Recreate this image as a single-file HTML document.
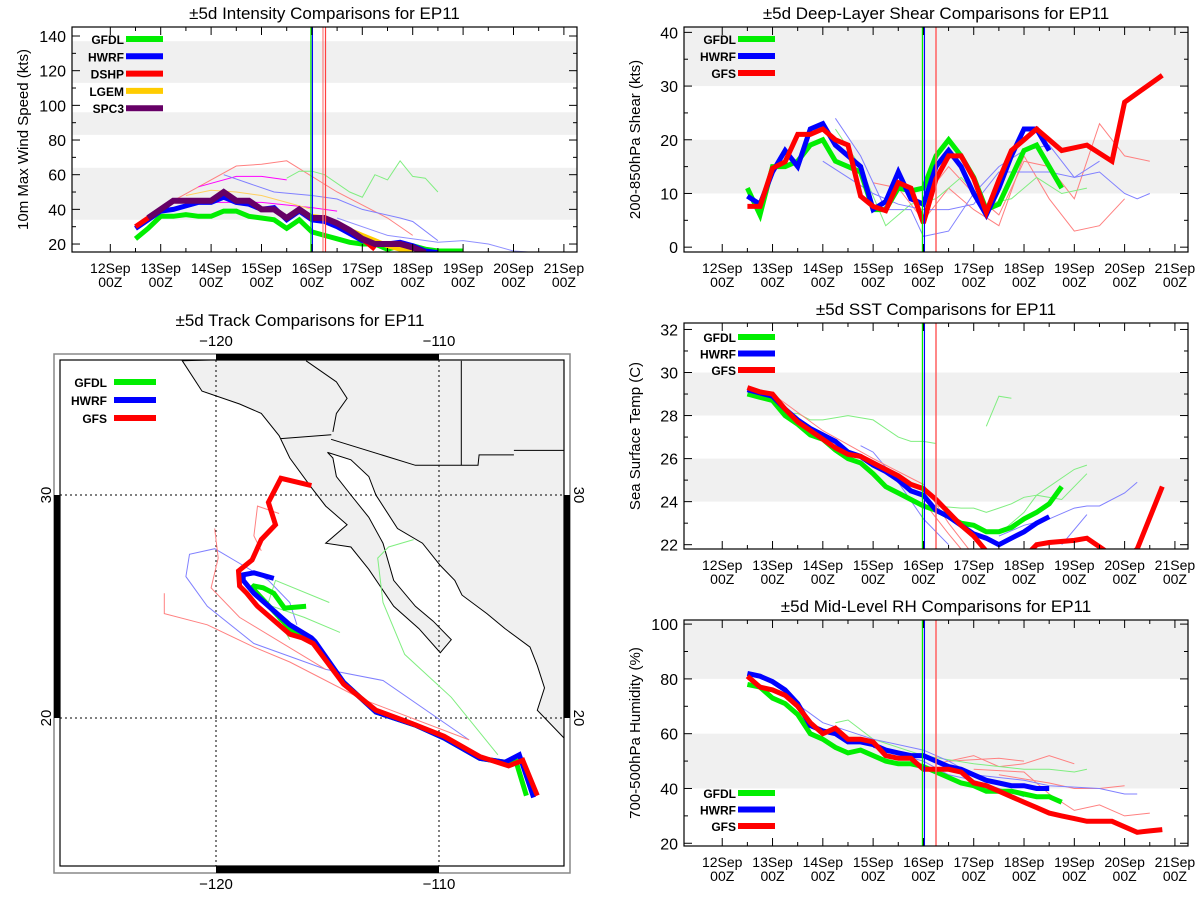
<!DOCTYPE html>
<html><head><meta charset="utf-8">
<style>
html,body{margin:0;padding:0;background:#fff;}
svg{display:block;font-family:"Liberation Sans",sans-serif;}
</style></head>
<body>
<svg id="root" width="1200" height="900" viewBox="0 0 1200 900"></svg>
<script>
// ===== Intensity panel data (days since 12Sep 00Z) =====
const intGFDL_start=0.5, intGFDL=[23,29,36,36,37,36,36,39,39,36,35,34,29,34,27,25,23,21,20,20,17,19,19,17,16,16,16];
const intHWRF_start=0.5, intHWRF=[29,34,39,40,42,44,44,47,44,43,40,41,34,39,34,33,30,26,22,20,20,21,19,16,15];
const intDSHP_start=0.5, intDSHP=[30,35,40,45,45,45,45,50,45,45,40,40,35,40,35,35,32,28,23,17];
const intLGEM_start=4.0, intLGEM=[36,35,32,28,25,22,19,17,16];
const intSPC3_start=0.75, intSPC3=[35,40,45,45,45,45,50,45,45,40,40,35,40,35,35,32,28,23,20,20,20,18,15];
const intThinT=[[1.25,2.5,3.0,3.5,4.5,5.5,6.0],[1.75,2.5,3.0,3.5],[2.0,3.0,4.0,4.5],[2.25,2.75,3.25,4.0,4.5,5.0,5.75,6.0,6.5],[3.5,3.75,4.0,4.25,4.75,5.0,5.25,5.5,5.75,6.0,6.25,6.5],[1.5,2.0,2.5,3.0,3.5,4.0],[4.5,5.5,6.5,7.0,7.5,8.0,8.5]];
const intThinV=[[45,65,66,68,50,35,25],[53,59,59,57],[44,44,41,39],[60,55,50,48,46,40,35,33,22],[58,62,62,60,50,47,60,57,68,59,58,50],[48,51,50,48,44,40],[35,25,21,22,20,16,15]];
const intThinC=['#ff8080','#ff00ff','#ff00ff','#8080ff','#80ee80','#ffd060','#9090ff'];
const intYTicks=[20,40,60,80,100,120,140];

// ===== Shear panel data =====
const shrGFDL_start=0.5, shrGFDL=[11,6,15,15,16,19,20,16,15,14,7,7,11,10.5,11,17,20,17,13,7,8,13,18,19,15,11];
const shrHWRF_start=0.5, shrHWRF=[9.5,8,14,18,15,22,23,19,17,15,7,8.5,14,9,8,15,18,15,10,6,11,17,22,22,18];
const shrGFS_t=[0.5,0.75,1.0,1.25,1.5,1.75,2.0,2.25,2.5,2.75,3.0,3.25,3.5,3.75,4.0,4.25,4.5,4.75,5.0,5.25,5.5,5.75,6.0,6.25,6.5,6.75,7.0,7.25,7.75,8.0,8.75];
const shrGFS_v=[7.6,7.6,14.7,15.9,21,21,22,20,19,9.5,7.6,6.8,12,11,4.5,12.7,17,17,12.8,6.5,12.5,18,20,22,20,18,18.5,19,16,27,32];
const shrThinT=[[4.0,4.5,5.0,5.5,6.0,6.5,7.0,7.5,8.0,8.5],[3.0,3.5,4.0,4.5,5.0,5.5,6.0,6.5,7.0,7.5,8.0],[2.25,2.75,3.25,3.75,4.0,4.5,5.0,5.5,6.0,6.5,7.0,7.5,8.0,8.25,8.5],[2.25,2.75,3.25,3.75,4.25,4.75,5.25,5.75,6.25,6.75,7.25],[2.0,2.5,3.0,3.5,4.0,4.5,5.0,5.5,6.0,6.5,7.0,7.5]];
const shrThinV=[[9,15,10,6,16,15,9,23,17,16],[12,11,5,11,7,4,17,9,3,4,9],[24,17,7,7,2,3,10,15,18,19,13,14,10,9,10],[22,15,4,8,9,13,8,9,13,10,11],[16,13,10,8,7,7,8,14,14,14,13,16]];
const shrThinC=['#ff8080','#ff8080','#8080ff','#80ee80','#8080ff'];
const shrYTicks=[0,10,20,30,40];

// ===== SST panel data =====
const sstGFDL_start=0.5, sstGFDL=[29.0,28.85,28.7,28.0,27.6,27.1,26.9,26.4,26.0,25.8,25.3,24.7,24.4,24.1,23.8,23.6,23.3,23.0,22.9,22.6,22.6,22.8,23.2,23.5,23.9,24.7];
const sstHWRF_start=0.5, sstHWRF=[29.2,29.05,28.9,28.3,27.8,27.4,27.1,26.8,26.3,26.1,25.7,25.4,25.0,24.5,24.3,23.6,23.3,22.9,22.5,22.3,22.0,22.3,22.6,23.0,23.3];
const sstGFS_t=[0.5,0.75,1.0,1.25,1.5,1.75,2.0,2.25,2.5,2.75,3.0,3.25,3.5,3.75,4.0,4.25,4.5,4.75,5.0,5.25,5.5,6.0,6.25,6.5,7.0,7.25,7.5,7.75,8.0,8.25,8.75];
const sstGFS_v=[29.3,29.1,29.0,28.3,27.7,27.3,26.9,26.5,26.2,26.1,25.8,25.5,25.2,24.8,24.6,24.1,23.5,22.9,22.4,21.7,21.2,21.4,22.0,22.1,22.2,22.3,21.9,21.5,21.3,21.8,24.7];
const sstThinT=[[1.25,1.5,1.75,2.0,2.5,3.0,3.5,3.75,4.0,4.25],[5.25,5.5,5.75],[4.25,4.75,5.0,5.25,5.5,5.75,6.0,6.25,6.5,7.0,7.25],[5.5,6.0,6.25,6.75,7.25],[2.75,3.0,3.5,4.0,4.5],[5.5,6.0,6.5,7.0,7.25,7.5,8.0,8.25],[6.75,7.25],[1.0,2.0,3.0,4.0,4.5,5.0],[4.0,4.5,4.75]];
const sstThinV=[[28.1,28.1,27.8,27.8,28.0,27.8,27.0,26.8,26.8,26.7],[27.5,28.9,28.8],[23.8,23.7,23.7,23.5,23.7,23.9,24.2,24.3,24.7,25.5,25.7],[22.5,23.5,24.3,24.1,25.3],[26.6,26.3,24.9,23.2,22.0],[22.4,22.9,23.2,23.7,23.8,23.8,24.4,24.9],[22.0,23.4],[29.0,27.3,26.0,24.8,23.0,21.5],[24.0,22.5,21.8]];
const sstThinC=['#80ee80','#80ee80','#80ee80','#80ee80','#8080ff','#8080ff','#8080ff','#ff8080','#ff8080'];
const sstYTicks=[22,24,26,28,30,32];

// ===== RH panel data =====
const rhGFDL_start=0.5, rhGFDL=[78,77,73,71,67,60,58,55,53,54,52,50,49,49,48,46,44,42,41,39,39,39,38,37,37,35];
const rhHWRF_start=0.5, rhHWRF=[82,81,79,76,71,63,61,60,57,57,56,54,53,52,52,50,48,47,45,43,42,41,41,40,40];
const rhGFS_start=0.5, rhGFS=[81,77,76,74,70,64,60,62,58,58,57,52,51,51,47,47,47,46,42,41,39,37,35,33,31,30,29,28,28,28,26,24,24.5,25];
const rhThinT=[[4.25,5.0,5.5,6.0,6.5,7.0],[4.5,5.5,6.0],[5.0,6.0,6.5,7.0,7.5,8.0,8.5],[5.5,6.5,7.0,7.5,8.0],[2.25,2.5,3.0,4.0,5.0,6.0,6.5,7.0,7.25],[1.25,2.0,3.0,4.0,4.5,5.0,5.5,6.0,6.5,7.5,8.0,8.25],[3.0,4.0,4.5,5.0,5.5,6.0]];
const rhThinV=[[49,52,48,49,52,49],[50,51,50],[47,46,38,32,34,30,31],[45,42,40,40,41],[64,65,58,52,49,47,47,46,47],[74,64,58,54,50,45,44,43,41,40,38,38],[55,50,45,43,40,37]];
const rhThinC=['#ff8080','#ff8080','#ff8080','#ff8080','#80ee80','#8080ff','#8080ff'];
const rhYTicks=[20,40,60,80,100];

// ===== Track data (lon, lat) =====
const trkHWRF_lon=[-105.76,-106.40,-107.04,-108.17,-109.77,-111.06,-112.83,-114.28,-115.56,-115.72,-116.69,-118.30,-118.78,-118.78,-118.30,-117.41];
const trkHWRF_lat=[16.44,18.35,18.02,18.19,19.10,19.68,20.27,21.60,23.43,23.59,24.18,25.59,26.17,26.42,26.51,26.26];
const trkGFDL_lon=[-106.08,-106.56,-107.04,-108.17,-109.77,-111.06,-112.83,-114.28,-115.72,-116.69,-118.38,-118.30,-117.89,-117.41,-116.93,-115.96];
const trkGFDL_lat=[16.52,18.10,18.02,18.19,19.10,19.68,20.27,21.60,23.51,24.01,25.84,25.92,25.84,25.59,24.93,25.01];
const trkGFS_lon=[-105.59,-106.24,-106.88,-108.17,-109.77,-111.22,-112.83,-114.28,-115.64,-116.13,-116.69,-118.14,-118.62,-118.94,-118.99,-118.38,-117.97,-117.33,-117.65,-117.09,-115.72];
const trkGFS_lat=[16.52,18.10,17.85,18.27,19.18,19.76,20.35,21.52,23.34,23.59,23.76,25.01,25.59,25.92,26.59,27.09,28.0,28.67,29.67,30.75,30.42];
const trkThinLon=[[-107.36,-109.45,-111.54,-112.51,-112.75,-112.26,-111.14],[-108.65,-112.51,-115.08,-118.30,-120.39,-121.35,-121.19,-120.06,-118.78,-117.65,-116.69,-116.37],[-108.65,-113.47,-116.69,-118.30,-120.39,-122.32,-122.32],[-115.08,-118.94,-120.22,-119.90,-120.06],[-117.97,-118.3,-118.14,-117.17],[-116.69,-117.65,-117.33,-114.92],[-117.97,-116.04,-114.44]];
const trkThinLat=[[18.35,20.93,22.85,25.18,27.17,27.67,28.00],[19.02,21.68,22.18,23.34,25.01,26.34,27.34,27.59,26.84,26.17,25.18,24.18],[19.02,20.85,22.51,23.18,24.18,24.68,25.59],[22.18,24.51,25.84,27.17,28.50],[27.5,28.17,29.5,29.17],[23.51,25.18,26.17,25.18],[25.18,24.51,23.84]];
const trkThinC=['#80ee80','#8080ff','#ff8080','#ff8080','#ff8080','#80ee80','#80ee80'];
// land outline (lon,lat)
const landLon=[-121.51,-104.0,-104.0,-104.39,-105.59,-105.27,-105.59,-105.92,-107.04,-107.85,-108.97,-109.29,-109.94,-110.74,-111.86,-112.83,-113.15,-113.95,-115.00,-114.76,-114.60,-113.95,-113.15,-112.51,-112.03,-111.06,-110.26,-109.45,-109.94,-110.90,-112.03,-113.15,-113.95,-115.08,-114.12,-115.08,-115.72,-116.69,-117.17,-117.97,-118.94,-120.63,-121.51];
const landLat=[36.02,36.5,19.10,19.10,20.35,21.35,22.35,23.18,24.01,24.68,25.51,26.17,26.84,27.84,28.50,30.00,30.83,31.58,31.91,31.66,30.83,30.00,29.00,27.84,26.17,25.01,24.34,23.51,22.93,24.01,25.01,26.67,27.67,27.84,28.67,29.50,30.33,31.66,32.66,33.66,34.08,34.66,36.02];
const bordersLon=[[-117.09,-114.83],[-114.84,-111.06,-108.25,-108.2,-106.64],[-115.96,-114.6,-114.12,-114.6,-114.76],[-109.0,-109.0],[-106.64,-104.0]];
const bordersLat=[[32.53,32.70],[32.5,31.33,31.33,31.8,31.8],[36.02,35.07,34.33,33.66,32.83],[36.02,31.33],[32.0,32.0]];

const NS='http://www.w3.org/2000/svg';
const root=document.getElementById('root');
function mk(tag,attrs,parent){const e=document.createElementNS(NS,tag);for(const k in attrs)e.setAttribute(k,attrs[k]);(parent||root).appendChild(e);return e;}
function txt(s,attrs,parent){const e=mk('text',attrs,parent);e.textContent=s;return e;}
const DAY0=-0.76, DAY1=9.26;
const dayLabels=['12Sep','13Sep','14Sep','15Sep','16Sep','17Sep','18Sep','19Sep','20Sep','21Sep'];

function regular(start,vals){return vals.map((v,i)=>[start+i*0.25,v]);}
function paired(t,v){return t.map((x,i)=>[x,v[i]]);}

let clipId=0;
function panel(o){
  const g=mk('g',{});
  
  
  const X=d=>o.x0+(d-DAY0)/(DAY1-DAY0)*(o.x1-o.x0);
  const Y=v=>o.y1-(v-o.ymin)/(o.ymax-o.ymin)*(o.y1-o.y0);
  const cid='clip'+(clipId++);
  const cp=mk('clipPath',{id:cid},g);mk('rect',{x:o.x0,y:o.y0,width:o.x1-o.x0,height:o.y1-o.y0},cp);
  // bands
  o.bands.forEach(b=>{
    const r=mk('rect',{x:o.x0,y:Y(Math.min(b[1],o.ymax)),width:o.x1-o.x0,height:Y(b[0])-Y(Math.min(b[1],o.ymax)),fill:'#f0f0f0'},g);
    
    
  });
  const pg=mk('g',{'clip-path':'url(#'+cid+')'},g);
  function line(pts,color,w,name){
    const p=mk('polyline',{points:pts.map(p=>X(p[0]).toFixed(1)+','+Y(p[1]).toFixed(1)).join(' '),fill:'none',stroke:color,'stroke-width':w,'stroke-linejoin':'miter','stroke-miterlimit':3},pg);
    
    
  }
  o.thin.forEach((s,i)=>line(s.pts,s.c,1,'old-forecast-line'));
  // vertical time lines
  o.vlines.forEach(v=>{
    const l=mk('line',{x1:X(v[0]),x2:X(v[0]),y1:o.y0,y2:o.y1,stroke:v[1],'stroke-width':v[2]||1},g);
    
    
  });
  o.series.forEach(s=>line(s.pts,s.c,s.w||5,s.name));
  // frame
  const fr=mk('rect',{x:o.x0,y:o.y0,width:o.x1-o.x0,height:o.y1-o.y0,fill:'none',stroke:'#000','stroke-width':1.2},g);
  
  
  // x ticks
  for(let d=0;d<=9;d+=0.5){
    const L=(d%1===0)?8:4;
    mk('line',{x1:X(d),x2:X(d),y1:o.y1,y2:o.y1-L,stroke:'#000'},g);
    mk('line',{x1:X(d),x2:X(d),y1:o.y0,y2:o.y0+L,stroke:'#000'},g);
  }
  dayLabels.forEach((s,i)=>{
    const t1=txt(s,{x:X(i),y:o.y1+21,'text-anchor':'middle','font-size':14},g);
    
    
    const t2=txt('00Z',{x:X(i),y:o.y1+35,'text-anchor':'middle','font-size':14},g);
    
    
  });
  // y ticks
  const step=o.yticks[1]-o.yticks[0];
  o.yticks.forEach((v,i)=>{
    mk('line',{x1:o.x0,x2:o.x0+8,y1:Y(v),y2:Y(v),stroke:'#000'},g);
    mk('line',{x1:o.x1,x2:o.x1-8,y1:Y(v),y2:Y(v),stroke:'#000'},g);
    for(let k=1;k<o.minor;k++){const mv=v+k*step/o.minor;if(mv<o.ymax){
      mk('line',{x1:o.x0,x2:o.x0+4,y1:Y(mv),y2:Y(mv),stroke:'#000'},g);
      mk('line',{x1:o.x1,x2:o.x1-4,y1:Y(mv),y2:Y(mv),stroke:'#000'},g);}}
    const t=txt(String(v),{x:o.x0-6,y:Y(v)+6,'text-anchor':'end','font-size':16},g);
    
    
  });
  const yt=txt(o.ytitle,{x:0,y:0,'text-anchor':'middle','font-size':15,transform:'translate('+(o.x0-44)+','+((o.y0+o.y1)/2)+') rotate(-90)'},g);
  
  
  const tt=txt(o.title,{x:(o.x0+o.x1)/2,y:o.y0-8,'text-anchor':'middle','font-size':17},g);
  
  
  // legend
  o.legend.forEach((l,i)=>{
    const y=o.legY+i*o.legDy;
    const t=txt(l[0],{x:o.x0+52,y:y+5,'text-anchor':'end','font-size':12,'font-weight':'bold'},g);
    
    
    const ln=mk('line',{x1:o.x0+54,x2:o.x0+91,y1:y,y2:y,stroke:l[1],'stroke-width':6},g);
    
    
  });
}
const G='#00ee00',B='#0000ff',R='#ff0000';
function thin(T,V,C){return T.map((t,i)=>({pts:paired(t,V[i]),c:C[i]}));}
const vl=[[3.98,G,1.2],[4.01,B,1.2],[4.22,'#ff8080',1.2],[4.27,'#ff4040',1.2]];
const vl2=[[3.98,G,1.2],[4.02,B,1.2],[4.25,'#ff6060',1.5]];

panel({name:'intensity-chart',x0:72,x1:577,y0:27,y1:252,ymin:15.4,ymax:145.2,yticks:intYTicks,minor:2,
  bands:[[34,64],[83,96],[113,137]],title:'±5d Intensity Comparisons for EP11',ytitle:'10m Max Wind Speed (kts)',
  thin:thin(intThinT,intThinV,intThinC),vlines:vl,
  series:[{pts:regular(intGFDL_start,intGFDL),c:G,name:'gfdl-line'},{pts:regular(intHWRF_start,intHWRF),c:B,name:'hwrf-line'},
    {pts:regular(intDSHP_start,intDSHP),c:R,name:'dshp-line'},{pts:regular(intLGEM_start,intLGEM),c:'#ffcc00',name:'lgem-line'},
    {pts:regular(intSPC3_start,intSPC3),c:'#660066',w:6,name:'spc3-line'}],
  legend:[['GFDL',G],['HWRF',B],['DSHP',R],['LGEM','#ffcc00'],['SPC3','#660066']],legY:39,legDy:17.3});

panel({name:'shear-chart',x0:684,x1:1188,y0:27,y1:252,ymin:-0.9,ymax:41,yticks:shrYTicks,minor:2,
  bands:[[10,20],[30,41]],title:'±5d Deep-Layer Shear Comparisons for EP11',ytitle:'200-850hPa Shear (kts)',
  thin:thin(shrThinT,shrThinV,shrThinC),vlines:vl2,
  series:[{pts:regular(shrGFDL_start,shrGFDL),c:G,name:'gfdl-line'},{pts:regular(shrHWRF_start,shrHWRF),c:B,name:'hwrf-line'},
    {pts:paired(shrGFS_t,shrGFS_v),c:R,name:'gfs-line'}],
  legend:[['GFDL',G],['HWRF',B],['GFS',R]],legY:39,legDy:17});

panel({name:'sst-chart',x0:684,x1:1188,y0:323,y1:549,ymin:21.8,ymax:32.3,yticks:sstYTicks,minor:2,
  bands:[[24,26],[28,30]],title:'±5d SST Comparisons for EP11',ytitle:'Sea Surface Temp (C)',
  thin:thin(sstThinT,sstThinV,sstThinC),vlines:vl2,
  series:[{pts:regular(sstGFDL_start,sstGFDL),c:G,name:'gfdl-line'},{pts:regular(sstHWRF_start,sstHWRF),c:B,name:'hwrf-line'},
    {pts:paired(sstGFS_t,sstGFS_v),c:R,name:'gfs-line'}],
  legend:[['GFDL',G],['HWRF',B],['GFS',R]],legY:337,legDy:16.5});

panel({name:'rh-chart',x0:684,x1:1188,y0:620,y1:846,ymin:19,ymax:101.5,yticks:rhYTicks,minor:2,
  bands:[[40,60],[80,101.5]],title:'±5d Mid-Level RH Comparisons for EP11',ytitle:'700-500hPa Humidity (%)',
  thin:thin(rhThinT,rhThinV,rhThinC),vlines:vl2,
  series:[{pts:regular(rhGFDL_start,rhGFDL),c:G,name:'gfdl-line'},{pts:regular(rhHWRF_start,rhHWRF),c:B,name:'hwrf-line'},
    {pts:regular(rhGFS_start,rhGFS),c:R,name:'gfs-line'}],
  legend:[['GFDL',G],['HWRF',B],['GFS',R]],legY:793,legDy:16.5});

// ===== Track map =====
(function(){
  const g=mk('g',{});
  
  
  const LX=lon=>439+(lon+110)*22.3, LY=lat=>718-(lat-20)*22.3;
  const x0=60,x1=564,y0=360,y1=866;
  const cp=mk('clipPath',{id:'mapclip'},g);mk('rect',{x:x0,y:y0,width:x1-x0,height:y1-y0},cp);
  const tt=txt('±5d Track Comparisons for EP11',{x:300,y:326,'text-anchor':'middle','font-size':17},g);
  
  
  const mg=mk('g',{'clip-path':'url(#mapclip)'},g);
  const land=mk('polygon',{points:landLon.map((l,i)=>LX(l).toFixed(1)+','+LY(landLat[i]).toFixed(1)).join(' '),fill:'#f0f0f0',stroke:'#000','stroke-width':1},mg);
  
  
  bordersLon.forEach((b,i)=>{
    const p=mk('polyline',{points:b.map((l,j)=>LX(l).toFixed(1)+','+LY(bordersLat[i][j]).toFixed(1)).join(' '),fill:'none',stroke:'#000','stroke-width':1},mg);
    
    
  });
  // grid
  [-120,-110].forEach(l=>{const e=mk('line',{x1:LX(l),x2:LX(l),y1:y0,y2:y1,stroke:'#000','stroke-dasharray':'2,3'},mg);});
  [20,30].forEach(l=>{const e=mk('line',{x1:x0,x2:x1,y1:LY(l),y2:LY(l),stroke:'#000','stroke-dasharray':'2,3'},mg);});
  trkThinLon.forEach((t,i)=>{
    const p=mk('polyline',{points:t.map((l,j)=>LX(l).toFixed(1)+','+LY(trkThinLat[i][j]).toFixed(1)).join(' '),fill:'none',stroke:trkThinC[i],'stroke-width':1},mg);
    
    
  });
  function trk(lo,la,c,name){
    const p=mk('polyline',{points:lo.map((l,j)=>LX(l).toFixed(1)+','+LY(la[j]).toFixed(1)).join(' '),fill:'none',stroke:c,'stroke-width':5,'stroke-linejoin':'miter'},mg);
    
    
  }
  trk(trkGFDL_lon,trkGFDL_lat,G,'gfdl-track');
  trk(trkHWRF_lon,trkHWRF_lat,B,'hwrf-track');
  trk(trkGFS_lon,trkGFS_lat,R,'gfs-track');
  // frame
  mk('rect',{x:54,y:354,width:516,height:519,fill:'none',stroke:'#888','stroke-width':1.5},g);
  mk('rect',{x:x0,y:y0,width:x1-x0,height:y1-y0,fill:'none',stroke:'#000','stroke-width':1.2},g);
  mk('rect',{x:LX(-120),y:354,width:LX(-110)-LX(-120),height:6,fill:'#000'},g);
  mk('rect',{x:LX(-120),y:866,width:LX(-110)-LX(-120),height:7,fill:'#000'},g);
  mk('rect',{x:54,y:LY(30),width:6,height:LY(20)-LY(30),fill:'#000'},g);
  mk('rect',{x:564,y:LY(30),width:6,height:LY(20)-LY(30),fill:'#000'},g);
  [-120,-110].forEach(l=>{
    const a=txt('−'+Math.abs(l),{x:LX(l),y:346,'text-anchor':'middle','font-size':15},g);
    
    const b=txt('−'+Math.abs(l),{x:LX(l),y:889,'text-anchor':'middle','font-size':15},g);
    
  });
  [20,30].forEach(l=>{
    const a=txt(String(l),{x:0,y:0,'text-anchor':'middle','font-size':15,transform:'translate(51,'+LY(l)+') rotate(-90)'},g);
    
    const b=txt(String(l),{x:0,y:0,'text-anchor':'middle','font-size':15,transform:'translate(574,'+LY(l)+') rotate(90)'},g);
    
  });
  [['GFDL',G],['HWRF',B],['GFS',R]].forEach((l,i)=>{
    const y=382+i*18;
    const t=txt(l[0],{x:107,y:y+5,'text-anchor':'end','font-size':12,'font-weight':'bold'},g);
    
    const ln=mk('line',{x1:114,x2:156,y1:y,y2:y,stroke:l[1],'stroke-width':6},g);
    
  });
})();
</script>
</body></html>
